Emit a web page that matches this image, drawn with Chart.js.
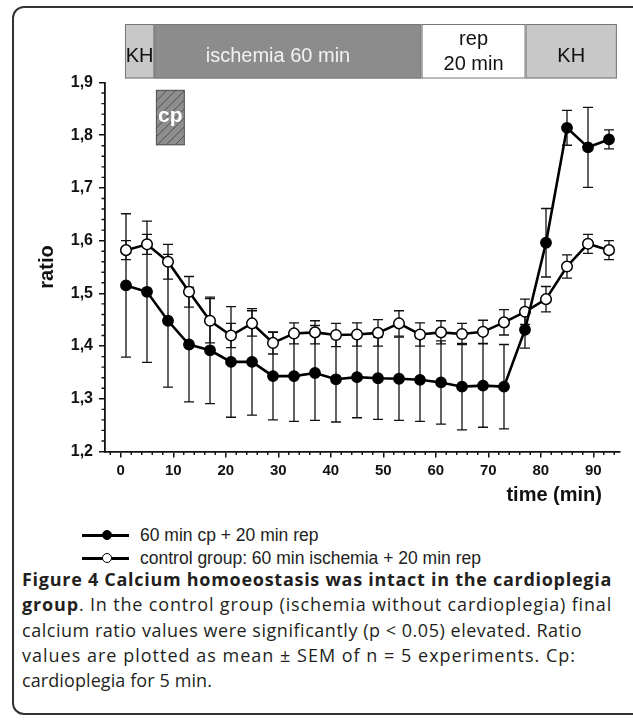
<!DOCTYPE html>
<html><head><meta charset="utf-8">
<script src="https://cdn.jsdelivr.net/npm/chart.js@4"></script>
<style>
html,body{margin:0;padding:0;background:#fff;width:633px;height:723px;overflow:hidden;position:relative;font-family:"Liberation Sans",Arial,sans-serif}
#frame{position:absolute;left:12px;top:6px;width:640px;height:709px;border:2px solid #333;border-radius:12px;box-sizing:border-box}
#wrap{position:absolute;left:0;top:0;width:633px;height:485px}
#xtitle{position:absolute;right:31px;top:482px;font:bold 20px "Liberation Sans",Arial,sans-serif;line-height:24px;color:#111}
.lg{position:absolute;left:82px;height:24px;width:520px;font-size:17.5px;line-height:24px;color:#222}
.lg .ln{position:absolute;left:0;top:11px;width:47px;height:2.6px;background:#000}
.lg .dot{position:absolute;left:19.5px;top:7px;width:8px;height:8px;border-radius:50%;border:1.5px solid #000}
.lg .tx{position:absolute;left:58px;top:0;white-space:nowrap}
#cap{position:absolute;left:22px;top:567px;font-family:"Open Sans","Noto Sans",sans-serif;font-size:18px;line-height:25.3px;color:#231f20;white-space:nowrap}
#cap .l{display:block;height:25.3px}
#cap b{font-weight:bold}
</style></head>
<body>
<div id="frame"></div>
<div id="wrap"><canvas id="c" width="633" height="485"></canvas></div>
<div id="xtitle">time (min)</div>
<div class="lg" style="top:523px"><div class="ln"></div><div class="dot" style="background:#000"></div><div class="tx">60 min cp + 20 min rep</div></div>
<div class="lg" style="top:546px"><div class="ln"></div><div class="dot" style="background:#fff"></div><div class="tx">control group: 60 min ischemia + 20 min rep</div></div>
<div id="cap"><span class="l" data-w="590"><b>Figure 4 Calcium homoeostasis was intact in the cardioplegia</b></span><span class="l" data-w="590"><b>group</b>. In the control group (ischemia without cardioplegia) final</span><span class="l" data-w="560">calcium ratio values were significantly (p &lt; 0.05) elevated. Ratio</span><span class="l" data-w="554">values are plotted as mean ± SEM of n = 5 experiments. Cp:</span><span class="l" data-w="190">cardioplegia for 5 min.</span></div>
<script>
// ---- data ----
const times = [1,5,9,13,17,21,25,29,33,37,41,45,49,53,57,61,65,69,73,77,81,85,89,93];
const cpMean = [1.515,1.503,1.448,1.403,1.392,1.370,1.370,1.343,1.343,1.349,1.337,1.341,1.339,1.338,1.336,1.331,1.323,1.325,1.323,1.431,1.596,1.814,1.777,1.792];
const cpSem  = [0.136,0.134,0.126,0.109,0.101,0.105,0.101,0.083,0.086,0.090,0.081,0.077,0.078,0.079,0.079,0.079,0.082,0.079,0.080,0.035,0.065,0.033,0.076,0.018];
const ctrlMean = [1.582,1.593,1.560,1.503,1.448,1.420,1.443,1.406,1.424,1.426,1.421,1.422,1.425,1.443,1.422,1.426,1.423,1.427,1.445,1.465,1.489,1.551,1.594,1.582];
const ctrlSem  = [0.018,0.019,0.033,0.029,0.042,0.023,0.024,0.021,0.020,0.022,0.022,0.022,0.025,0.024,0.022,0.022,0.020,0.022,0.024,0.024,0.024,0.022,0.018,0.018];
const xTicks = [0,10,20,30,40,50,60,70,80,90];
const yTicks = [1.2,1.3,1.4,1.5,1.6,1.7,1.8,1.9];
const phaseLabels = [['KH'],['ischemia 60 min'],['rep','20 min'],['KH']];
const phaseEdges = [0.8,6.4,57.3,77.1,94.5];
const cpStart = 6.7, cpEnd = 12.2, cpLow = 1.781, cpHigh = 1.886;

const phaseFill = ['#c8c8c8','#8c8c8c','#ffffff','#c8c8c8'];
const phaseInk  = ['#111','#f2f2f2','#111','#111'];
const FONT = '"Liberation Sans", Arial, sans-serif';

// fit caption lines to the reference line widths with letter spacing
(function(){
  const cap = document.getElementById('cap');
  cap.querySelectorAll('.l').forEach(el=>{
    const rr = document.createRange(); rr.selectNodeContents(el);
    const w = rr.getBoundingClientRect().width;
    const n = el.textContent.length;
    const ls = Math.max(-1, Math.min(1.2, (+el.dataset.w - w)/n));
    el.style.letterSpacing = ls.toFixed(3)+'px';
  });
})();

const errorBars = {
  id:'errorBars',
  beforeDatasetsDraw(chart){
    const {ctx, scales:{x,y}} = chart;
    const sets = [[cpMean,cpSem],[ctrlMean,ctrlSem]];
    ctx.save(); ctx.strokeStyle='#111'; ctx.lineWidth=1.3;
    sets.forEach(([m,s])=>{
      times.forEach((t,i)=>{
        const px=x.getPixelForValue(t), yt=y.getPixelForValue(m[i]+s[i]), yb=y.getPixelForValue(m[i]-s[i]);
        ctx.beginPath();
        ctx.moveTo(px,yt); ctx.lineTo(px,yb);
        ctx.moveTo(px-5,yt); ctx.lineTo(px+5,yt);
        ctx.moveTo(px-5,yb); ctx.lineTo(px+5,yb);
        ctx.stroke();
      });
    });
    ctx.restore();
  }
};

const extras = {
  id:'extras',
  afterDraw(chart){
    const {ctx, chartArea:ca, scales:{x,y}} = chart;
    ctx.save();
    // minor ticks
    ctx.strokeStyle='#111'; ctx.lineWidth=1.4;
    ctx.beginPath();
    for(let v=-2; v<=94; v+=2){ if(v%10===0) continue; const px=x.getPixelForValue(v); ctx.moveTo(px,ca.bottom); ctx.lineTo(px,ca.bottom+3.5); }
    for(let k=61;k<95;k++){ if(k%5===0) continue; const py=y.getPixelForValue(k*0.02); ctx.moveTo(ca.left-3.5,py); ctx.lineTo(ca.left,py); }
    ctx.stroke();
    // phase bar
    const top = ca.top-58.5, bot = ca.top-4;
    for(let i=0;i<phaseLabels.length;i++){
      const x0=x.getPixelForValue(phaseEdges[i]), x1=x.getPixelForValue(phaseEdges[i+1]);
      ctx.fillStyle=phaseFill[i]; ctx.fillRect(x0,top,x1-x0,bot-top);
      ctx.strokeStyle='#777'; ctx.lineWidth=1; ctx.strokeRect(x0+0.5,top+0.5,x1-x0-1,bot-top-1);
      ctx.fillStyle=phaseInk[i]; ctx.font='20px '+FONT; ctx.textAlign='center'; ctx.textBaseline='middle';
      const cx=(x0+x1)/2 - (i===1?10:0);
      const lines=phaseLabels[i];
      if(lines.length===1){ ctx.fillText(lines[0],cx,top+32); }
      else { ctx.fillText(lines[0],cx,top+15.5); ctx.fillText(lines[1],cx,top+40.5); }
    }
    // cp box
    const bx0=x.getPixelForValue(cpStart), bx1=x.getPixelForValue(cpEnd), by0=y.getPixelForValue(cpHigh), by1=y.getPixelForValue(cpLow);
    ctx.fillStyle='#8e8e8e'; ctx.fillRect(bx0,by0,bx1-bx0,by1-by0);
    ctx.save(); ctx.beginPath(); ctx.rect(bx0,by0,bx1-bx0,by1-by0); ctx.clip();
    ctx.strokeStyle='#4a4a4a'; ctx.lineWidth=0.9; ctx.beginPath();
    for(let d=-80; d<120; d+=9){ ctx.moveTo(bx0+d,by1); ctx.lineTo(bx0+d+(by1-by0),by0); }
    ctx.stroke(); ctx.restore();
    ctx.strokeStyle='#555'; ctx.lineWidth=1; ctx.strokeRect(bx0+0.5,by0+0.5,bx1-bx0-1,by1-by0-1);
    ctx.fillStyle='#fff'; ctx.font='bold 21px '+FONT; ctx.textAlign='center'; ctx.textBaseline='middle';
    ctx.fillText('cp',(bx0+bx1)/2,(by0+by1)/2-1);
    ctx.restore();
  }
};

new Chart(document.getElementById('c'), {
  type:'line',
  data:{datasets:[
    {label:'60 min cp + 20 min rep', data:times.map((t,i)=>({x:t,y:cpMean[i]})), borderColor:'#000', backgroundColor:'#000', borderWidth:2.6,
     pointRadius:5.3, pointBorderWidth:1.2, pointBackgroundColor:'#000', pointBorderColor:'#000', tension:0},
    {label:'control group: 60 min ischemia + 20 min rep', data:times.map((t,i)=>({x:t,y:ctrlMean[i]})), borderColor:'#000', backgroundColor:'#fff', borderWidth:2.6,
     pointRadius:5.3, pointBorderWidth:1.5, pointBackgroundColor:'#fff', pointBorderColor:'#000', tension:0}
  ]},
  options:{
    responsive:false, animation:false, devicePixelRatio:1,
    layout:{padding:{top:82.5,right:13.5,left:0,bottom:0}},
    plugins:{legend:{display:false}, tooltip:{enabled:false}},
    scales:{
      x:{type:'linear', min:-3, max:95,
        afterFit:s=>{s.height=33.5;},
        afterBuildTicks:s=>{s.ticks=xTicks.map(v=>({value:v}));},
        ticks:{font:{family:FONT,size:15,weight:'bold'}, color:'#111', padding:4, maxRotation:0, autoSkip:false, callback:v=>String(v)},
        grid:{drawOnChartArea:false, drawTicks:true, tickLength:6, color:'#111', lineWidth:1.5},
        border:{display:true, color:'#111', width:1.8}
      },
      y:{type:'linear', min:1.2, max:1.9,
        afterFit:s=>{s.width=105;},
        afterBuildTicks:s=>{s.ticks=yTicks.map(v=>({value:v}));},
        ticks:{font:{family:FONT,size:16,weight:'bold'}, color:'#111', padding:6, autoSkip:false, callback:v=>Number(v).toFixed(1).replace('.',',')},
        grid:{drawOnChartArea:false, drawTicks:true, tickLength:6, color:'#111', lineWidth:1.5},
        border:{display:true, color:'#111', width:1.8},
        title:{display:true, text:'ratio', color:'#111', font:{family:FONT,size:20,weight:'bold'}, padding:{top:35,bottom:0}}
      }
    }
  },
  plugins:[errorBars, extras]
});
</script>
</body></html>
